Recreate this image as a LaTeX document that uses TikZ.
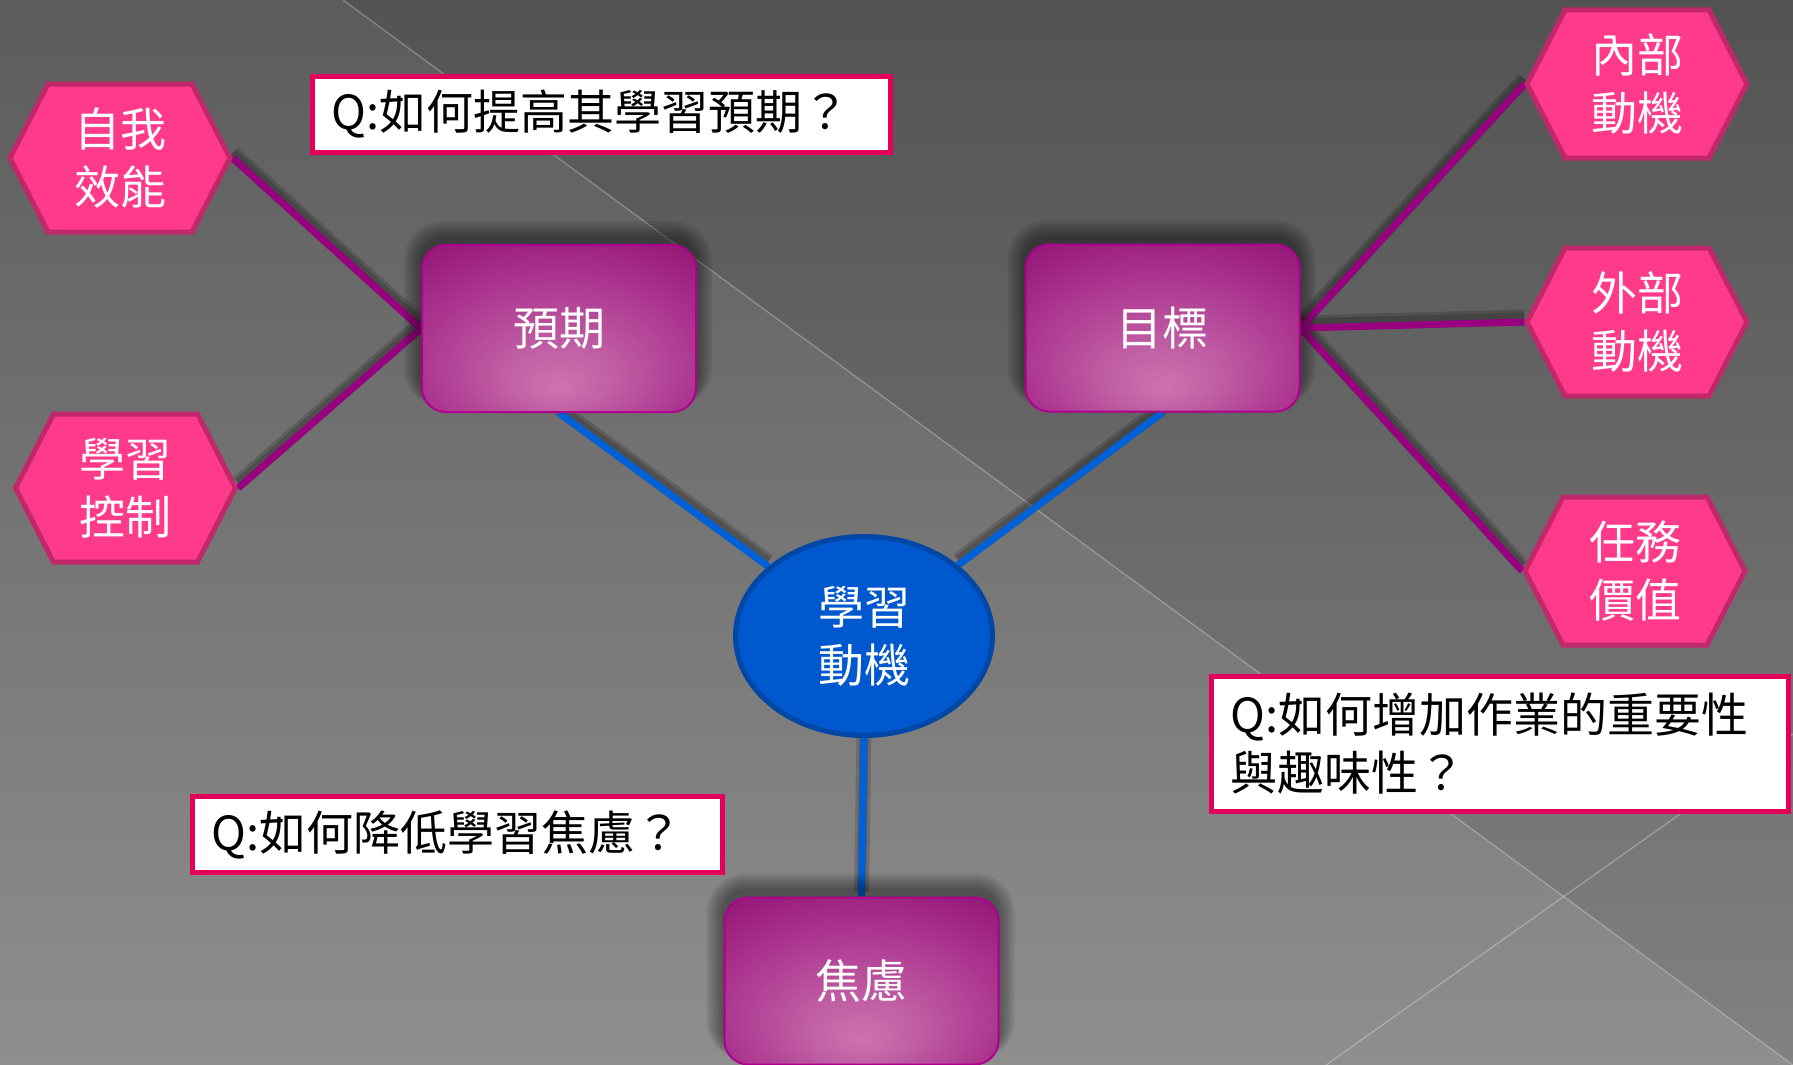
\documentclass[tikz,border=0pt]{standalone}
\usepackage{fontspec}
\setmainfont{Noto Sans CJK TC}
\usetikzlibrary{shapes.geometric}
\definecolor{hexfill}{HTML}{FF3A8A}
\definecolor{hexline}{HTML}{C1286B}
\definecolor{linkpurple}{HTML}{990080}
\definecolor{linkblue}{HTML}{0060D8}
\definecolor{ellfill}{HTML}{0058CF}
\definecolor{ellline}{HTML}{0047A6}
\definecolor{bxborder}{HTML}{B0008E}
\definecolor{bxlight}{HTML}{CD72B0}
\definecolor{bxlm}{HTML}{C05EA4}
\definecolor{bxmid}{HTML}{A92F8C}
\definecolor{bxdark}{HTML}{860A6A}
\definecolor{qborder}{HTML}{E4005A}
\definecolor{bgtop}{HTML}{5C5C5C}
\definecolor{bgbot}{HTML}{8E8E8E}
\pgfdeclareradialshading{boxshade}{\pgfpoint{0bp}{-18bp}}{color(0bp)=(bxlight); color(10bp)=(bxlm); color(28bp)=(bxmid); color(46bp)=(bxdark); color(60bp)=(bxdark)}
\pgfdeclarelayer{bg}
\pgfdeclarelayer{links}
\pgfdeclarelayer{shadowlayer}
\pgfsetlayers{bg,links,shadowlayer,main}
\newcommand\hexnode[4]{%
  \draw[hexshape] (#2-110,#3) -- (#2-72,#3-74) -- (#2+72,#3-74) -- (#2+110,#3) -- (#2+72,#3+74) -- (#2-72,#3+74) -- cycle;
  \node[hextext] (#1) at (#2,#3) {#4};}
\newcommand\boxshadow[1]{%
  \foreach \g in {1,4,7,10,13,16}{%
    \fill[black,opacity=0.08,rounded corners=24pt+\g pt]
      ([shift={(-\g-1,-\g-7)}]#1.north west) rectangle ([shift={(\g-1,0.4*\g-12)}]#1.south east);}}
\begin{document}
\begin{tikzpicture}[x=1pt,y=-1pt,
  cjk/.style={font=\fontsize{46}{58}\selectfont},
  hexshape/.style={fill=hexfill,draw=hexline,line width=5pt},
  hextext/.style={cjk,text=white,align=center,inner sep=0pt,minimum width=225pt,minimum height=153pt},
  topicbox/.style={cjk,text=white,rounded corners=24pt,draw=bxborder,line width=2pt,shading=boxshade,
    minimum width=274pt,minimum height=167pt,inner sep=0pt},
  corenode/.style={ellipse,cjk,text=white,align=center,fill=ellfill,draw=ellline,line width=5pt,
    minimum width=257pt,minimum height=199pt,inner sep=0pt},
  qbox/.style={font=\fontsize{47}{58}\selectfont,fill=white,draw=qborder,line width=5pt,align=left,
    inner xsep=19pt,inner ysep=0pt,anchor=center},
  plink/.style={draw=linkpurple,line width=7pt},
  blink/.style={draw=linkblue,line width=7pt},
  lshadow/.style={draw=black,line width=#1,opacity=0.16},
]
\useasboundingbox (0,0) rectangle (1793,1065);
\begin{pgfonlayer}{bg}
  \foreach \i in {0,...,70}{%
    \pgfmathsetmacro\p{\i*100/70}%
    \fill[bgbot!\p!bgtop] (0,{\i*15-0.5}) rectangle (1793,{\i*15+15.5});}
  \fill[black,opacity=0.09] (343,0) -- (1793,0) -- (1793,1065) -- cycle;
  \draw[white,opacity=0.28,line width=1.3pt] (343,0) -- (1793,1065);
  \draw[white,opacity=0.28,line width=1.3pt] (1326,1065) -- (1793,734);
\end{pgfonlayer}

% hexagons
\hexnode{zw}{120}{158}{自我\\效能}
\hexnode{xk}{125.5}{488}{學習\\控制}
\hexnode{nb}{1637}{84}{內部\\動機}
\hexnode{wb}{1637}{322}{外部\\動機}
\hexnode{rw}{1635}{571}{任務\\價值}

% topic boxes
\node[topicbox] (yq) at (559,328.5) {預期};
\node[topicbox] (mb) at (1162.5,328) {目標};
\node[topicbox] (jl) at (861.5,981) {焦慮};

% core
\node[corenode] (core) at (864,636) {學習\\動機};

% question boxes
\node[qbox,text width=540pt,minimum height=76pt] (q1) at (601.5,114.5) {Q:如何提高其學習預期？};
\node[qbox,text width=492pt,minimum height=76pt] (q2) at (457.5,834.5) {Q:如何降低學習焦慮？};
\node[qbox,text width=539pt,minimum height=135pt] (q3) at (1500,744) {Q:如何增加作業的重要性\\與趣味性？};

% box shadows
\begin{pgfonlayer}{shadowlayer}
  \boxshadow{yq}
  \boxshadow{mb}
  \boxshadow{jl}
\end{pgfonlayer}

% connectors
\begin{pgfonlayer}{links}
  \foreach \w in {9pt,15pt}{%
  \draw[lshadow=\w] ([yshift=5pt]yq.west) -- ([yshift=5pt]zw.east);
  \draw[lshadow=\w] ([yshift=5pt]yq.west) -- ([yshift=5pt]xk.east);
  \draw[lshadow=\w] ([yshift=5pt]mb.east) -- ([yshift=5pt]nb.west);
  \draw[lshadow=\w] ([yshift=5pt]mb.east) -- ([yshift=5pt]wb.west);
  \draw[lshadow=\w] ([yshift=5pt]mb.east) -- ([yshift=5pt]rw.west);
  \draw[lshadow=\w] ([yshift=5pt]yq.south) -- ([yshift=5pt]core.144);
  \draw[lshadow=\w] ([yshift=5pt]mb.south) -- ([yshift=5pt]core.37);
  \draw[lshadow=\w] ([yshift=5pt]core.south) -- ([yshift=5pt]jl.north);}
  \draw[plink] (yq.west) -- (zw.east);
  \draw[plink] (yq.west) -- (xk.east);
  \draw[plink] (mb.east) -- (nb.west);
  \draw[plink] (mb.east) -- (wb.west);
  \draw[plink] (mb.east) -- (rw.west);
  \draw[blink] (yq.south) -- (core.144);
  \draw[blink] (mb.south) -- (core.37);
  \draw[blink] (core.south) -- (jl.north);
\end{pgfonlayer}
\end{tikzpicture}
\end{document}
